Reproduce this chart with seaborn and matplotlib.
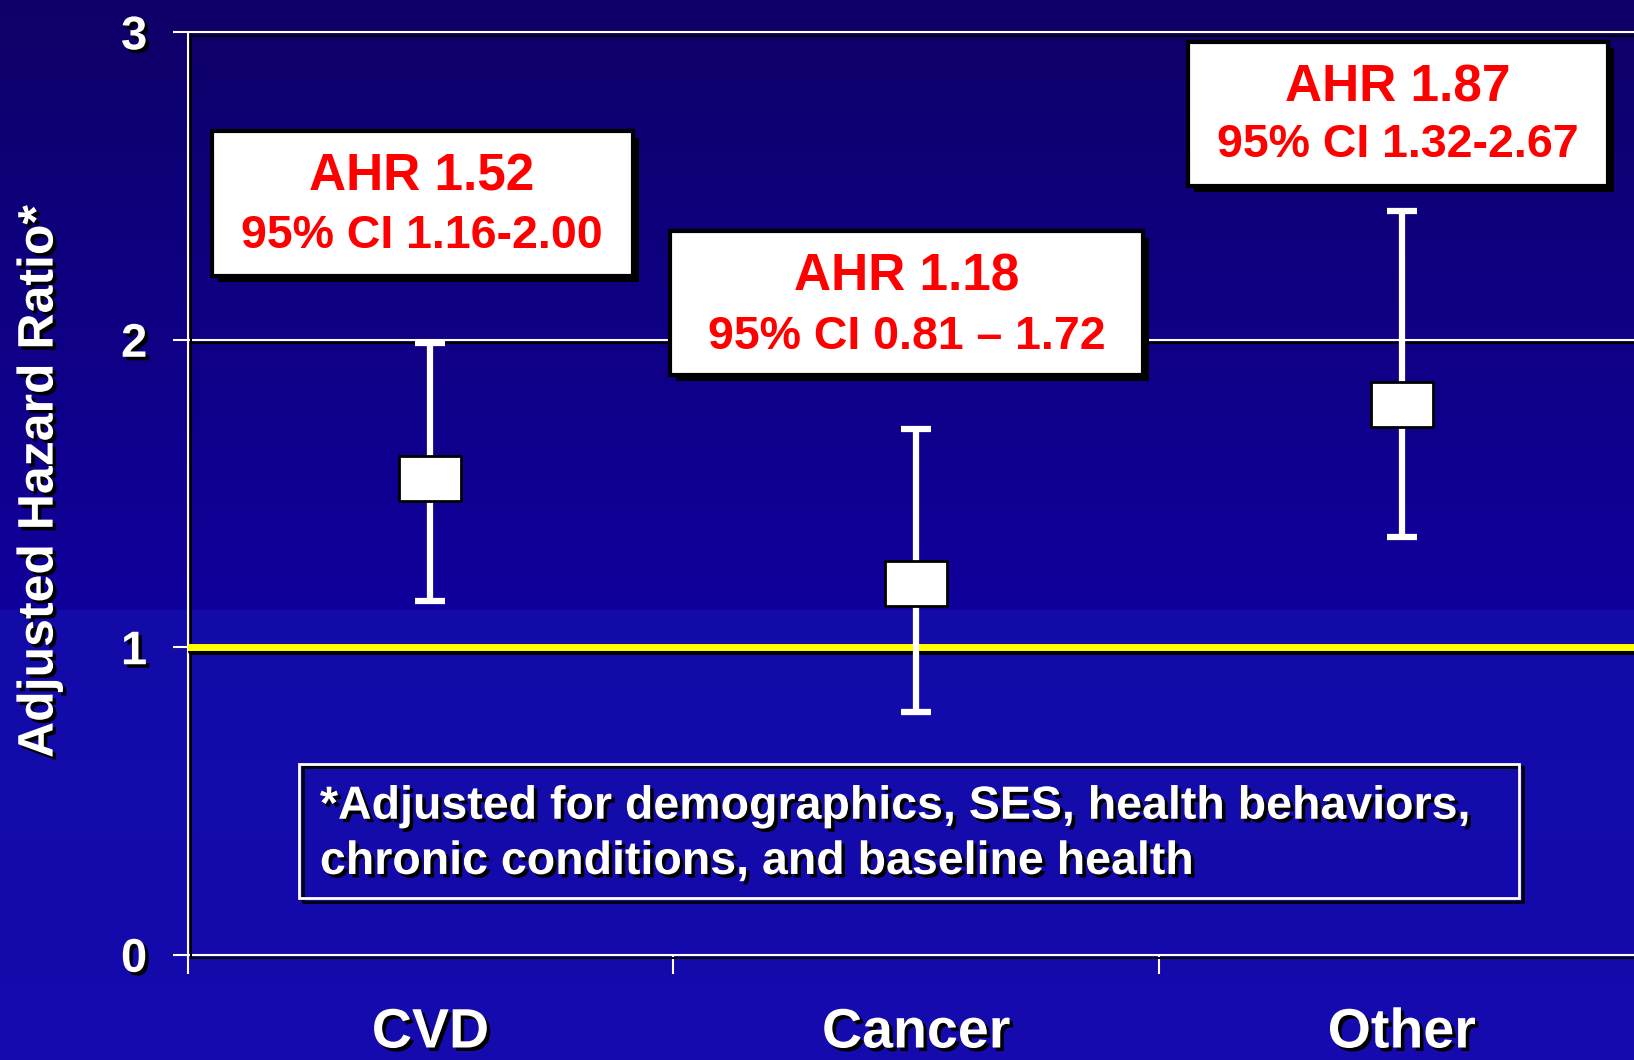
import numpy as np
import pandas as pd
import matplotlib
matplotlib.use("Agg")
import matplotlib.pyplot as plt
import matplotlib.patheffects as pe
from matplotlib.markers import MarkerStyle
from matplotlib.patches import Rectangle
import seaborn as sns

# values
causes = ["CVD", "Cancer", "Other"]
ahr_point = [1.55, 1.21, 1.79]
ci_low = [1.15, 0.79, 1.36]
ci_high = [1.99, 1.71, 2.42]
ahr_text = ["AHR 1.52", "AHR 1.18", "AHR 1.87"]
ci_text = ["95% CI 1.16-2.00", "95% CI 0.81 \u2013 1.72", "95% CI 1.32-2.67"]
yticks = [0, 1, 2, 3]
footnote = ["*Adjusted for demographics, SES, health behaviors,",
            "chronic conditions, and baseline health"]

df = pd.DataFrame({"cause": causes, "ahr": ahr_point, "lo": ci_low, "hi": ci_high})

sns.set_theme(style="ticks")
plt.rcParams["font.family"] = ["Liberation Sans", "DejaVu Sans"]
plt.rcParams["font.weight"] = "bold"

# layout measured on a 1568x1017 copy of the slide
W, H = 1568, 1017
def fx(px):
    return px / W
def fy(py):
    return 1 - py / H

line_fx = [pe.SimpleLineShadow(offset=(2.5, -2.5), shadow_color="black", alpha=1), pe.Normal()]
text_fx = [pe.SimplePatchShadow(offset=(2.5, -2.5), shadow_rgbFace="black", alpha=1), pe.Normal()]
box_fx = [pe.SimplePatchShadow(offset=(4.5, -4.5), shadow_rgbFace="black", alpha=1), pe.Normal()]

fig = plt.figure(figsize=(16.34, 10.6), dpi=100)

# ---- background gradient (dark navy -> blue, with a step like the slide) ----
step = 585
upper = np.linspace([13, 0, 104], [17, 0, 156], step)
lower = np.linspace([19, 12, 168], [21, 10, 174], H - step)
grad = np.vstack([upper, lower])[:, None, :] / 255.0
bg = fig.add_axes([0, 0, 1, 1], zorder=0)
bg.imshow(grad, aspect="auto", extent=[0, 1, 0, 1], interpolation="nearest")
bg.axis("off")

# ---- main axes ----
ax = fig.add_axes([fx(180), fy(916), fx(1578) - fx(180), fy(31) - fy(916)], zorder=1)
ax.set_facecolor("none")
for s in ax.spines.values():
    s.set_visible(False)

marker = MarkerStyle([(-1, -0.72), (1, -0.72), (1, 0.72), (-1, 0.72), (-1, -0.72)])
sns.scatterplot(data=df, x="cause", y="ahr", marker=marker, s=45 ** 2,
                color="white", edgecolor="black", linewidth=2, zorder=4, ax=ax)
ax.errorbar(df["cause"], df["ahr"], yerr=[df["ahr"] - df["lo"], df["hi"] - df["ahr"]],
            fmt="none", ecolor="white", elinewidth=4.5, capsize=11, capthick=4.5, zorder=3)

for yv in [0, 2, 3]:
    ax.axhline(yv, color="white", lw=1.5, clip_on=False, path_effects=line_fx, zorder=2)
ax.axvline(-0.5, color="white", lw=1.5, clip_on=False, path_effects=line_fx, zorder=2)
ax.axhline(1, color="#FFFF00", lw=5, path_effects=line_fx, zorder=2)

ax.set_xlim(-0.5, 2.5)
ax.set_ylim(0, 3)

ax.set_yticks(yticks)
ylabs = ax.set_yticklabels([str(v) for v in yticks])
ax.tick_params(axis="y", length=11, width=1.5, color="white", direction="out",
               pad=18, labelsize=34, labelcolor="white", left=True)
for t in ylabs:
    t.set_path_effects(text_fx)

ax.set_xticks(range(len(causes)))
xlabs = ax.set_xticklabels(causes)
ax.set_xticks([-0.5, 0.5, 1.5], minor=True)
ax.tick_params(axis="x", which="major", length=0, pad=38, labelsize=40, labelcolor="white")
ax.tick_params(axis="x", which="minor", length=14, width=1.5, color="white", direction="out",
               bottom=True)
for t in xlabs:
    t.set_path_effects(text_fx)

ax.set_xlabel("")
ax.set_ylabel("Adjusted Hazard Ratio*", fontsize=36, fontweight="bold", color="white",
              va="center", path_effects=text_fx)
ax.yaxis.set_label_coords((38 - 180) / 1398, (916 - 462) / 885)

# ---- annotation boxes ----
boxes_px = [(203, 126, 607, 265), (643, 222, 1097, 360), (1140, 40, 1543, 178)]
line_y_px = [(170, 226), (266, 323), (84, 139)]
for (x0, y0, x1, y1), (ly1, ly2), t1, t2 in zip(boxes_px, line_y_px, ahr_text, ci_text):
    rect = Rectangle((fx(x0), fy(y1)), fx(x1) - fx(x0), fy(y0) - fy(y1),
                     transform=fig.transFigure, facecolor="white", edgecolor="black",
                     lw=3, path_effects=box_fx, zorder=5)
    fig.add_artist(rect)
    cx = fx((x0 + x1) / 2)
    fig.text(cx, fy(ly1), t1, color="#FF0000", fontsize=37, ha="center", va="center", zorder=6)
    fig.text(cx, fy(ly2), t2, color="#FF0000", fontsize=33.5, ha="center", va="center", zorder=6)

# ---- footnote box ----
note = Rectangle((fx(287), fy(862)), fx(1458) - fx(287), fy(733) - fy(862),
                 transform=fig.transFigure, facecolor="none", edgecolor="white",
                 lw=2, path_effects=line_fx, zorder=5)
fig.add_artist(note)
for line, py in zip(footnote, [774, 827]):
    fig.text(fx(307), fy(py), line, color="white", fontsize=33.5, ha="left", va="center",
             path_effects=text_fx, zorder=6)

fig.savefig("out.png", dpi=100)
